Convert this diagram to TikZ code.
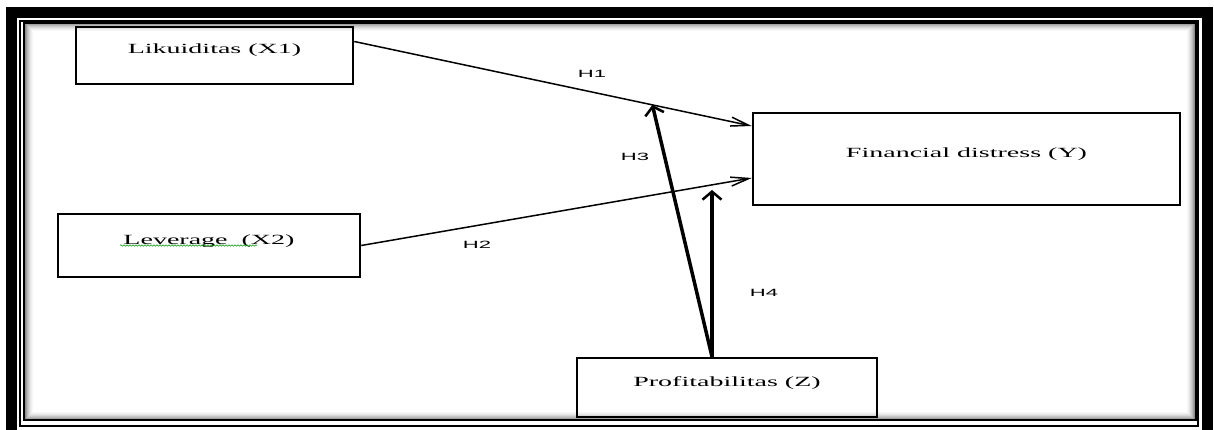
\documentclass[tikz,border=0pt]{standalone}
\usepackage{fontspec}
\usetikzlibrary{arrows.meta,decorations.pathmorphing}
\newfontfamily\boxfont[FakeStretch=2.0]{Liberation Serif}
\newfontfamily\hfont[FakeStretch=2.1]{Liberation Sans}
\begin{document}
\begin{tikzpicture}[
			x=1pt, y=-1pt,
			var box/.style={draw, line width=2.5pt, inner sep=0pt, text height=9pt, text depth=12pt,
				font=\boxfont\fontsize{14}{16}\selectfont},
			hyp label/.style={font=\hfont\fontsize{10.5}{12}\selectfont, inner sep=1pt},
			direct/.style={line width=1.5pt, -{Straight Barb[length=18pt, width=9pt, line width=1.5pt]}},
			moderate/.style={line width=3.5pt, -{Straight Barb[length=8pt, width=19pt, line width=2.5pt]}}
			]
			\useasboundingbox (0,0) rectangle (1214,430);
			% frame
			\draw[line width=11pt] (11,13) rectangle (1207.5,445);
			\draw[line width=2pt] (19.5,21) rectangle (1197.5,426);
			\foreach \i/\o in {1/0.45,2/0.36,3/0.28,4/0.21,5/0.15,6/0.10,7/0.06,8/0.03}
				\draw[black, opacity=\o, line width=1pt] (24+\i,23+\i) rectangle (1195-\i,420-\i);
			\draw[line width=2.5pt] (24,22.5) rectangle (1196,420);
			
			\node[var box, minimum width=277pt, minimum height=57pt] (X1) at (214.5,55.5) {Likuiditas (X1)};
			\node[var box, minimum width=302pt, minimum height=63pt] (X2) at (209,245.5) {Leverage\ \ (X2)};
			\node[var box, minimum width=427pt, minimum height=92pt] (Y) at (966.5,159) {Financial distress (Y)};
			\node[var box, minimum width=300pt, minimum height=59pt] (Z) at (727,387.5) {Profitabilitas (Z)};
			\draw[green!60!black, line width=0.5pt, decorate, decoration={snake, amplitude=0.8pt, segment length=3pt}]
				(120,245.5) -- (257,245.5);
			
			\draw[direct] ([yshift=14pt]X1.east) -- coordinate[pos=0.75] (h1m) ([yshift=33pt]Y.west);
			\draw[direct] (X2.east) -- ([yshift=-19pt]Y.west);
			\coordinate (h4tip) at (712,190);
			\draw[moderate] ([xshift=-15pt]Z.north) -- (h1m);
			\draw[moderate] ([xshift=-15pt]Z.north) -- (h4tip);
			
			\node[hyp label] (H1) at (592,74) {H1};
			\node[hyp label] (H2) at (477,245) {H2};
			\node[hyp label] (H3) at (635,157) {H3};
			\node[hyp label] (H4) at (764,293) {H4};
		\end{tikzpicture}
\end{document}
